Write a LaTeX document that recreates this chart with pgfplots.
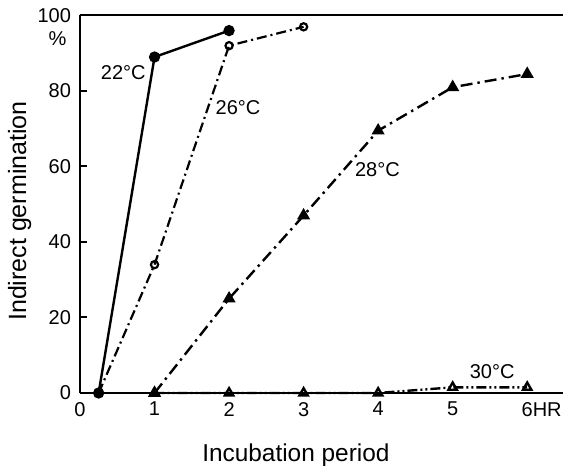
\documentclass[border=0pt]{standalone}
\usepackage{pgfplots}
\pgfplotsset{compat=1.18}
\usepackage{fontspec}
\setmainfont{Liberation Sans}

\begin{document}
\begin{tikzpicture}
\begin{axis}[
  scale only axis, width=241.5pt, height=188.75pt,
  xmin=0, xmax=6.48, ymin=0, ymax=100,
  axis x line=box, axis y line=left,
  axis line style={-, line width=1pt},
  xtick={0,...,6}, xticklabels={0,1,2,3,4,5,6\rlap{HR}},
  ytick={0,20,...,100},
  tick align=inside, major tick length=3.5pt,
  x tick style={draw=none},
  y tick style={line width=1pt, black},
  xticklabel style={yshift=-1pt},
  yticklabel style={xshift=-1pt},
  tick label style={font=\fontsize{10}{12}\selectfont},
  /pgf/number format/assume math mode=true,
  xlabel={Incubation period}, ylabel={Indirect germination},
  xlabel style={at={(axis description cs:0.447,-0.164)}, anchor=center, font=\fontsize{12.2}{14}\selectfont},
  ylabel style={at={(axis description cs:-0.125,0.482)}, anchor=center, font=\fontsize{12.5}{14}\selectfont},
  clip=false,
]
% 22 C
\addplot[black, line width=1.2pt, mark=*, mark size=2.2pt] coordinates {(0.25,0)(1,89)(2,96)};
% 26 C
\addplot[black, line width=1.1pt, dash pattern=on 5pt off 2pt on 1pt off 2pt,
  mark=o, mark size=1.8pt, mark options={solid, fill=white}] coordinates {(0.25,0)(1,34)(2,92)(3,97)};
% 28 C
\addplot[black, line width=1.2pt, dash pattern=on 6pt off 2.5pt on 1.2pt off 2.5pt,
  mark=triangle*, mark size=2.6pt, mark options={solid}] coordinates {(1,0)(2,25)(3,47)(4,69.5)(5,81)(6,84.5)};
% 30 C
\addplot[black, line width=1.2pt, dash pattern=on 5pt off 1.5pt on 1pt off 1.5pt on 1pt off 1.5pt,
  mark=triangle, mark size=2.4pt, mark options={solid, fill=white}] coordinates {(1,0)(2,0)(3,0)(4,0)(5,1.5)(6,1.5)};

\node[font=\fontsize{10}{12}\selectfont] at (axis cs:0.58,85) {22°C};
\node[font=\fontsize{10}{12}\selectfont] at (axis cs:2.12,75.5) {26°C};
\node[font=\fontsize{10}{12}\selectfont] at (axis cs:3.99,59.3) {28°C};
\node[font=\fontsize{10}{12}\selectfont] at (axis cs:5.53,5.6) {30°C};
\node[font=\fontsize{10}{12}\selectfont] at (axis cs:-0.3,93.8) {\%};

\coordinate (SW) at (rel axis cs:0,0);
\coordinate (NE) at (rel axis cs:1,1);
\end{axis}
\pgfresetboundingbox
\path ([xshift=-40pt,yshift=-36.5pt]SW) rectangle ([yshift=7.75pt]NE);
\end{tikzpicture}
\end{document}
